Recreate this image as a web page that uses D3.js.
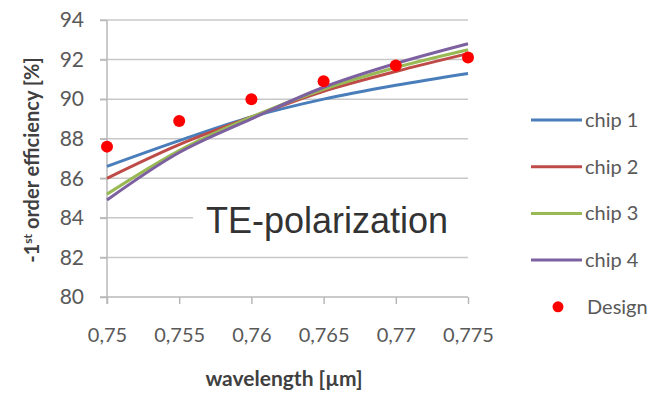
<!DOCTYPE html>
<html>
<head>
<meta charset="utf-8">
<script src="https://cdn.jsdelivr.net/npm/d3@7"></script>
<style>
  body { margin: 0; background: #fff; }
  svg { display: block; }
</style>
</head>
<body>
<svg id="chart"></svg>
<script>
// data
const wavelengths = [0.75, 0.755, 0.76, 0.765, 0.77, 0.775];
const chip1 = [86.6, 87.9, 89.1, 90.0, 90.7, 91.3];
const chip2 = [86.0, 87.7, 89.1, 90.4, 91.4, 92.3];
const chip3 = [85.2, 87.4, 89.1, 90.5, 91.6, 92.5];
const chip4 = [84.9, 87.3, 89.0, 90.6, 91.8, 92.8];
const design = [87.6, 88.9, 90.0, 90.9, 91.7, 92.1];
const seriesNames = ["chip 1", "chip 2", "chip 3", "chip 4"];
const seriesColors = ["#4a7ebb", "#be4b48", "#98b954", "#7d60a0"];
const yTicks = [80, 82, 84, 86, 88, 90, 92, 94];

const width = 649, height = 402;
const margin = { left: 107, right: 181, top: 20, bottom: 105 };

const svg = d3.select("#chart")
    .attr("width", width)
    .attr("height", height);

const xScale = d3.scaleLinear()
    .domain([0.75, 0.775])
    .range([margin.left, width - margin.right]);
const yScale = d3.scaleLinear()
    .domain([80, 94])
    .range([height - margin.bottom, margin.top]);

const tickFont = "Lato, 'Open Sans', sans-serif";
const fmt = d => String(d).replace(".", ",");

// horizontal gridlines
svg.append("g")
    .selectAll("line")
    .data(yTicks.slice(1))
    .join("line")
    .attr("x1", margin.left - 7)
    .attr("x2", width - margin.right)
    .attr("y1", d => yScale(d))
    .attr("y2", d => yScale(d))
    .attr("stroke", "#c8c8c8")
    .attr("stroke-width", 1.5);

// y axis
const yAxis = d3.axisLeft(yScale).tickValues(yTicks).tickSize(7).tickPadding(16);
const gy = svg.append("g")
    .attr("transform", "translate(" + margin.left + ",0)")
    .call(yAxis);
gy.select(".domain").attr("stroke", "#b8b8b8").attr("stroke-width", 1.5)
    .attr("d", "M0," + (yScale(80) + 7) + "V" + yScale(94));
gy.selectAll(".tick line").attr("stroke", "#b8b8b8").attr("stroke-width", 1.5);
gy.selectAll("text")
    .attr("font-family", tickFont)
    .attr("font-size", 21)
    .attr("fill", "#595959");

// x axis
const xAxis = d3.axisBottom(xScale).tickValues(wavelengths).tickSize(7).tickPadding(24).tickFormat(fmt);
const gx = svg.append("g")
    .attr("transform", "translate(0," + yScale(80) + ")")
    .call(xAxis);
gx.select(".domain").attr("stroke", "#b8b8b8").attr("stroke-width", 1.5)
    .attr("d", "M" + (margin.left - 7) + ",0H" + (width - margin.right));
gx.selectAll(".tick line").attr("stroke", "#b8b8b8").attr("stroke-width", 1.5);
gx.selectAll("text")
    .attr("font-family", tickFont)
    .attr("font-size", 20)
    .attr("fill", "#595959");

// white box behind the annotation
svg.append("rect")
    .attr("x", 193)
    .attr("y", yScale(85.2))
    .attr("width", width - margin.right - 193 + 1)
    .attr("height", yScale(82.6) - yScale(85.2))
    .attr("fill", "#fff");

// lines
const line = d3.line()
    .x((d, i) => xScale(wavelengths[i]))
    .y(d => yScale(d))
    .curve(d3.curveCatmullRom);

[chip1, chip2, chip3, chip4].forEach((vals, i) => {
    svg.append("path")
        .attr("d", line(vals))
        .attr("fill", "none")
        .attr("stroke", seriesColors[i])
        .attr("stroke-width", 3);
});

// design points
svg.append("g")
    .selectAll("circle")
    .data(design)
    .join("circle")
    .attr("cx", (d, i) => xScale(wavelengths[i]))
    .attr("cy", d => yScale(d))
    .attr("r", 6)
    .attr("fill", "#ff0000");

// annotation
svg.append("text")
    .attr("x", 206)
    .attr("y", 233)
    .attr("font-family", "'Liberation Sans', Arial, sans-serif")
    .attr("font-size", 36)
    .attr("fill", "#333")
    .text("TE-polarization");

// axis titles
svg.append("text")
    .attr("x", 284)
    .attr("y", 386)
    .attr("text-anchor", "middle")
    .attr("font-family", tickFont)
    .attr("font-weight", "bold")
    .attr("font-size", 21)
    .attr("fill", "#404040")
    .text("wavelength [µm]");

const yt = svg.append("text")
    .attr("transform", "translate(39,160) rotate(-90)")
    .attr("text-anchor", "middle")
    .attr("font-family", tickFont)
    .attr("font-weight", "bold")
    .attr("font-size", 20)
    .attr("fill", "#404040");
yt.append("tspan").text("-1");
yt.append("tspan").attr("baseline-shift", "super").attr("font-size", 12).text("st");
yt.append("tspan").text(" order efficiency [%]");

// legend
const legendNames = seriesNames.concat(["Design"]);
const lg = svg.append("g");
legendNames.forEach((name, i) => {
    const y = 120 + i * 46.7;
    if (i < 4) {
        lg.append("line")
            .attr("x1", 531).attr("x2", 582)
            .attr("y1", y).attr("y2", y)
            .attr("stroke", seriesColors[i])
            .attr("stroke-width", 3);
    } else {
        lg.append("circle")
            .attr("cx", 558).attr("cy", y)
            .attr("r", 5.5)
            .attr("fill", "#ff0000");
    }
    lg.append("text")
        .attr("x", i < 4 ? 585 : 587)
        .attr("y", y + 7)
        .attr("font-family", tickFont)
        .attr("font-size", 20)
        .attr("fill", "#595959")
        .text(name);
});
</script>
</body>
</html>
